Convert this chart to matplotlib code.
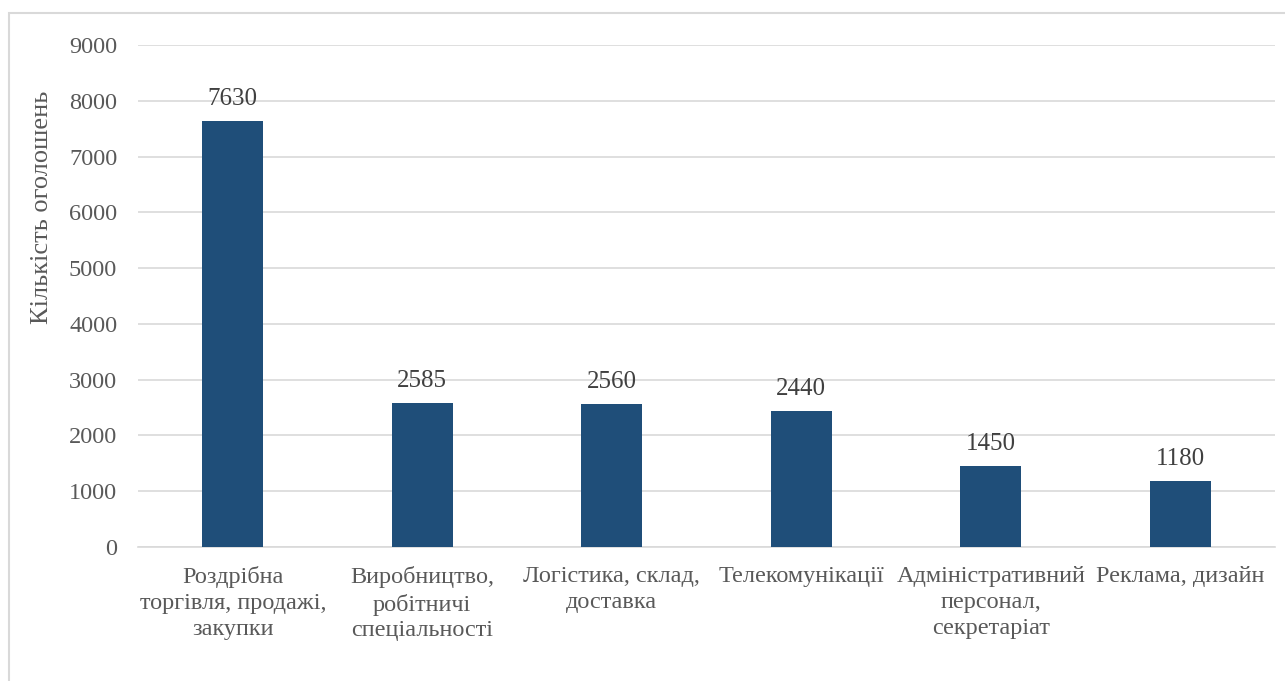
import matplotlib.pyplot as plt
from matplotlib.patches import Rectangle

# ── Data ──────────────────────────────────────────────────────────────────────
categories = [
    "Роздрібна\nторгівля, продажі,\nзакупки",
    "Виробництво,\nробітничі\nспеціальності",
    "Логістика, склад,\nдоставка",
    "Телекомунікації",
    "Адміністративний\nперсонал,\nсекретаріат",
    "Реклама, дизайн",
]
counts = [7630, 2585, 2560, 2440, 1450, 1180]
y_ticks = [0, 1000, 2000, 3000, 4000, 5000, 6000, 7000, 8000, 9000]
y_label = "Кількість оголошень"

BAR_COLOR = "#1F4E79"
TEXT_COLOR = "#595959"
GRID_COLOR = "#D9D9D9"

plt.rcParams["font.family"] = ["Liberation Serif", "DejaVu Serif"]

fig = plt.figure(figsize=(12.85, 6.81), dpi=100)
ax = fig.add_axes([138 / 1285, 1 - 547 / 681, (1275 - 138) / 1285, (547 - 45) / 681])

x = range(len(categories))
bars = ax.bar(x, counts, width=0.32, color=BAR_COLOR, zorder=3)
for b, v in zip(bars, counts):
    ax.annotate(str(v), (b.get_x() + b.get_width() / 2, v),
                xytext=(0, 8), textcoords="offset points",
                ha="center", va="bottom", fontsize=18, color="#404040")

ax.set_xlim(-0.5, len(categories) - 0.5)
ax.set_ylim(0, 9000)
ax.set_yticks(y_ticks)
ax.set_xticks(list(x))
ax.set_xticklabels(categories, fontsize=17.5, color=TEXT_COLOR, linespacing=1.3)
ax.tick_params(axis="y", labelsize=17.5, labelcolor=TEXT_COLOR, length=0, pad=15)
ax.tick_params(axis="x", length=0, pad=14)
ax.grid(axis="y", color=GRID_COLOR, linewidth=1.2, zorder=0)
for s in ["top", "right", "left"]:
    ax.spines[s].set_visible(False)
ax.spines["bottom"].set_color(GRID_COLOR)
ax.spines["bottom"].set_linewidth(1.2)

fig.text(42 / 1285, 1 - 207 / 681, y_label, rotation=90, ha="center", va="center",
         fontsize=19, color=TEXT_COLOR)

# chart frame
fig.patches.append(Rectangle((9 / 1285, -0.05), 1.2, 1 - 13 / 681 + 0.05,
                             transform=fig.transFigure, fill=False,
                             edgecolor=GRID_COLOR, linewidth=1.5))

fig.savefig("out.png", dpi=100)
